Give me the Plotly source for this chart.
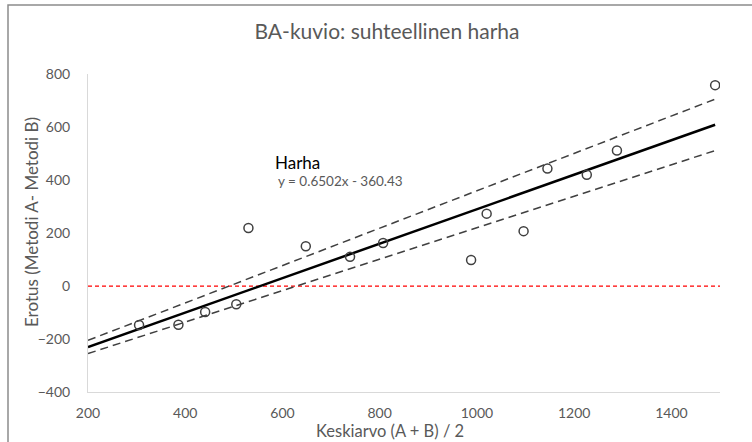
import plotly.graph_objects as go

# Mean of the two methods and their difference (A - B)
keskiarvo = [305, 386, 441, 505, 530, 648, 739, 807, 988, 1020, 1096, 1145, 1226, 1288, 1490]
erotus = [-147, -146, -98, -69, 219, 150, 110, 162, 98, 273, 207, 443, 420, 511, 758]

# Regression of difference on mean
slope = 0.6502
intercept = -360.43
trend_x = [200, 1490]

# Upper / lower limit lines (end points)
upper_x = [200, 1490]
upper_y = [-205, 705]
lower_x = [200, 1490]
lower_y = [-255, 511]

# Zero-difference reference line
zero_x = [200, 1500]
zero_y = [0, 0]

x_ticks = [200, 400, 600, 800, 1000, 1200, 1400]
y_ticks = [-400, -200, 0, 200, 400, 600, 800]

FONT = "Lato"
GREY = "#595959"

# plot area in pixels
W, H = 752, 442
L, R, T, B = 88, 720, 74, 392
PW, PH = R - L, B - T


def px(x):
    return (x - L) / PW


def py(y):
    return (B - y) / PH


fig = go.Figure()

fig.add_trace(go.Scatter(
    x=zero_x, y=zero_y, mode="lines",
    line=dict(color="#FF0000", width=1.25, dash="4px,3px"),
    showlegend=False, hoverinfo="skip"))

for xs, ys in ((upper_x, upper_y), (lower_x, lower_y)):
    fig.add_trace(go.Scatter(
        x=xs, y=ys, mode="lines",
        line=dict(color="#404040", width=1.5, dash="8px,5px"),
        showlegend=False, hoverinfo="skip"))

fig.add_trace(go.Scatter(
    x=trend_x, y=[slope * v + intercept for v in trend_x], mode="lines",
    line=dict(color="#000000", width=2.5),
    showlegend=False, hoverinfo="skip"))

fig.add_trace(go.Scatter(
    x=keskiarvo, y=erotus, mode="markers",
    marker=dict(symbol="circle-open", size=9, color="#404040",
                line=dict(width=1.5, color="#404040")),
    showlegend=False))

fig.update_layout(
    width=W, height=H,
    margin=dict(l=L, r=W - R, t=T, b=H - B),
    paper_bgcolor="white", plot_bgcolor="white",
    font=dict(family=FONT, color=GREY, size=14),
    title=dict(text="BA-kuvio: suhteellinen harha", xref="container",
               x=387 / W, xanchor="center",
               yref="container", y=1 - 32 / H, yanchor="middle",
               font=dict(family=FONT, size=21, color=GREY)),
    xaxis=dict(range=[200, 1500], tickvals=x_ticks, showgrid=False,
               zeroline=False, showline=True, linecolor="#D9D9D9", linewidth=1,
               ticks="", ticklabelstandoff=8, tickfont=dict(size=14, color=GREY)),
    yaxis=dict(range=[-400, 800], tickvals=y_ticks, showgrid=False,
               zeroline=False, showline=True, linecolor="#D9D9D9", linewidth=1,
               ticks="", ticklabelstandoff=14, tickfont=dict(size=14, color=GREY)),
    shapes=[dict(type="rect", xref="paper", yref="paper",
                 x0=px(8), x1=1.2, y0=-0.3, y1=py(5),
                 line=dict(color="#8C8C8C", width=1.5), layer="below")],
    annotations=[
        dict(text="Erotus (Metodi A- Metodi B)", textangle=-90,
             xref="paper", yref="paper", x=px(31), y=py(222),
             xanchor="center", yanchor="middle", showarrow=False,
             font=dict(size=17, color=GREY)),
        dict(text="Keskiarvo (A + B) / 2", xref="paper", yref="paper",
             x=px(390), y=py(431),
             xanchor="center", yanchor="middle", showarrow=False,
             font=dict(size=16.5, color=GREY)),
        dict(text="Harha", xref="paper", yref="paper",
             x=px(273), y=py(162),
             xanchor="left", yanchor="middle", showarrow=False,
             font=dict(size=17, color="#000000")),
        dict(text="y = 0.6502x - 360.43", xref="paper", yref="paper",
             x=px(276), y=py(181),
             xanchor="left", yanchor="middle", showarrow=False,
             font=dict(size=13.5, color=GREY)),
    ],
)

fig.write_html("out.html")
